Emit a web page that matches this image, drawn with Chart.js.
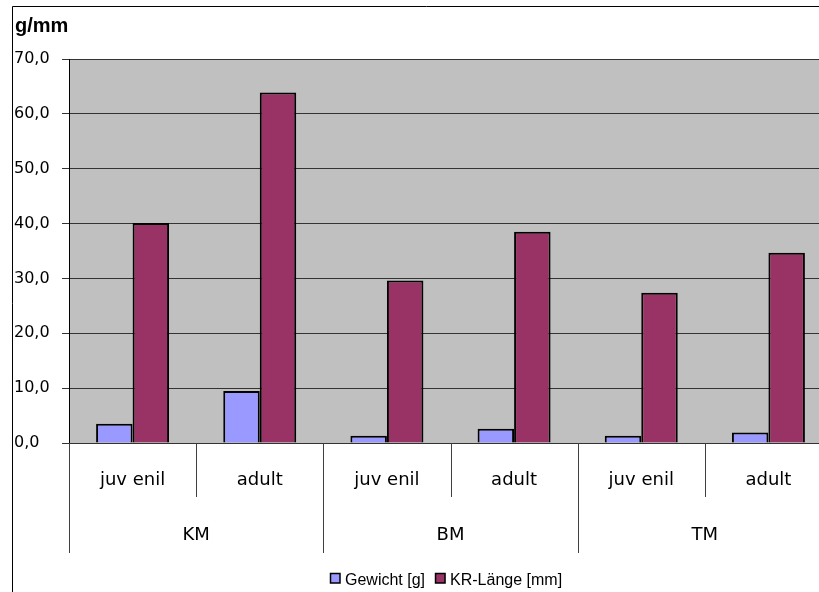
<!DOCTYPE html>
<html>
<head>
<meta charset="utf-8">
<script src="https://cdn.jsdelivr.net/npm/chart.js@4/dist/chart.umd.min.js"></script>
<style>
  html, body { margin: 0; padding: 0; background: #fff; overflow: hidden; }
  canvas { display: block; }
</style>
</head>
<body>
<canvas id="c" width="840" height="600"></canvas>
<script>
// Inner categories (life stage) and outer groups
const stages = ['juv enil', 'adult', 'juv enil', 'adult', 'juv enil', 'adult'];
const groups = ['KM', 'BM', 'TM'];

// Series values (g and mm)
const gewicht  = [3.5, 9.5, 1.3, 2.6, 1.3, 1.9];
const krLaenge = [40.1, 63.9, 29.6, 38.5, 27.4, 34.7];

const seriesNames = ['Gewicht [g]', 'KR-Länge [mm]'];
const seriesColors = ['#9999FF', '#993366'];
const unitLabel = 'g/mm';

const yMin = 0, yMax = 70, yStep = 10;

const tickFont = '"DejaVu Sans", sans-serif';
const legendFont = '"Liberation Sans", Arial, sans-serif';

// Grey plot background
const plotBackground = {
  id: 'plotBackground',
  beforeDraw(chart) {
    const { ctx, chartArea: a } = chart;
    ctx.save();
    ctx.fillStyle = '#C0C0C0';
    ctx.fillRect(a.left, a.top, a.right - a.left, a.bottom - a.top);
    ctx.restore();
  }
};

// Two-level category axis, unit label, legend and frame
const decorations = {
  id: 'decorations',
  afterDraw(chart) {
    const { ctx, chartArea: a } = chart;
    const xs = chart.scales.x;
    const n = stages.length;
    const w = (a.right - a.left) / n;
    ctx.save();

    // separators between categories
    ctx.strokeStyle = '#404040';
    ctx.lineWidth = 1;
    for (let i = 0; i <= n; i++) {
      const x = Math.round(a.left + i * w) + 0.5;
      const end = (i % 2 === 0) ? a.bottom + 110 : a.bottom + 54;
      ctx.beginPath();
      ctx.moveTo(x, a.bottom);
      ctx.lineTo(x, end);
      ctx.stroke();
    }

    ctx.fillStyle = '#000';
    ctx.textAlign = 'center';
    ctx.textBaseline = 'middle';
    ctx.font = '18px ' + tickFont;
    stages.forEach((s, i) => {
      ctx.fillText(s, xs.getPixelForValue(i), a.bottom + 37);
    });
    groups.forEach((g, k) => {
      const cx = (xs.getPixelForValue(2 * k) + xs.getPixelForValue(2 * k + 1)) / 2;
      ctx.fillText(g, cx, a.bottom + 92);
    });

    // unit label
    ctx.textAlign = 'left';
    ctx.textBaseline = 'alphabetic';
    ctx.font = 'bold 20px ' + legendFont;
    ctx.fillText(unitLabel, 15, 32);

    // legend
    ctx.font = '16px ' + legendFont;
    let lx = 330;
    const ly = 573;
    chart.data.datasets.forEach((ds, i) => {
      ctx.fillStyle = ds.backgroundColor;
      ctx.fillRect(lx, ly, 10, 10);
      ctx.strokeStyle = '#000';
      ctx.lineWidth = 1.5;
      ctx.strokeRect(lx + 0.5, ly + 0.5, 9.5, 9.5);
      ctx.fillStyle = '#000';
      ctx.fillText(ds.label, lx + 15, ly + 12);
      lx += 15 + ctx.measureText(ds.label).width + 10;
    });

    // outer frame
    ctx.strokeStyle = '#000';
    ctx.lineWidth = 1;
    ctx.beginPath();
    ctx.moveTo(12.5, chart.height);
    ctx.lineTo(12.5, 6.5);
    ctx.lineTo(chart.width, 6.5);
    ctx.stroke();

    ctx.restore();
  }
};

new Chart(document.getElementById('c'), {
  type: 'bar',
  data: {
    labels: stages,
    datasets: [
      {
        label: seriesNames[0],
        data: gewicht,
        backgroundColor: seriesColors[0],
        borderColor: '#000',
        borderWidth: 2,
        borderSkipped: 'bottom'
      },
      {
        label: seriesNames[1],
        data: krLaenge,
        backgroundColor: seriesColors[1],
        borderColor: '#000',
        borderWidth: 2,
        borderSkipped: 'bottom'
      }
    ]
  },
  options: {
    responsive: false,
    animation: false,
    events: [],
    categoryPercentage: 0.574,
    barPercentage: 1.0,
    layout: { padding: { left: 14, top: 59, right: 8, bottom: 0 } },
    plugins: {
      legend: { display: false },
      title: { display: false },
      tooltip: { enabled: false }
    },
    scales: {
      x: {
        grid: { display: false },
        border: { display: false },
        ticks: { display: false },
        afterFit(scale) { scale.height = 157; }
      },
      y: {
        min: yMin,
        max: yMax,
        afterFit(scale) { scale.width = 55; },
        grid: {
          color: '#333',
          lineWidth: 1,
          tickLength: 7,
          drawTicks: true
        },
        border: { color: '#000', width: 1 },
        ticks: {
          stepSize: yStep,
          crossAlign: 'far',
          padding: 0,
          color: '#000',
          font: { family: tickFont, size: 16 },
          callback: v => v.toFixed(1).replace('.', ',')
        }
      }
    }
  },
  plugins: [plotBackground, decorations]
});
</script>
</body>
</html>
